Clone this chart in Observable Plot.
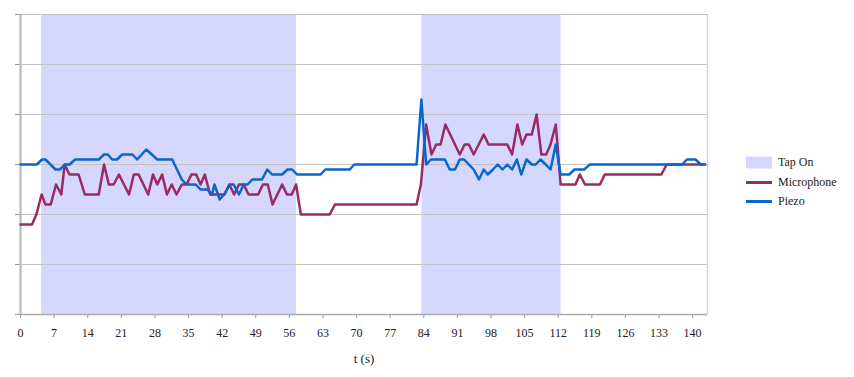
<!DOCTYPE html>
<html>
<head>
<meta charset="utf-8">
<script src="https://cdn.jsdelivr.net/npm/d3@7"></script>
<script src="https://cdn.jsdelivr.net/npm/@observablehq/plot@0.6"></script>
<style>
  html, body { margin: 0; padding: 0; background: white; }
  #wrap { position: relative; width: 854px; height: 377px; }
  #legend { position: absolute; left: 746px; top: 153px; font-family: "Liberation Serif", "DejaVu Serif", serif; font-size: 12px; color: #222; }
  #legend .row { display: flex; align-items: center; height: 19.5px; }
  #legend svg { margin-right: 5px; }
</style>
</head>
<body>
<div id="wrap"></div>
<script>
// Shaded "Tap On" intervals (t in s)
const tapStart = [4.4, 83.6];
const tapEnd = [57.5, 112.6];

// Microphone series (vertices)
const micT = [0, 2.4, 3.3, 4.4, 5.2, 6.3, 7.4, 8.5, 9.2, 10.2, 12.1, 13.4, 16.3, 17.4, 18.4, 19.4, 20.5, 22.6, 23.6, 24.6, 26.6, 27.6, 28.5, 29.5, 30.5, 31.5, 32.5, 33.6, 34.6, 35.6, 36.6, 37.5, 38.4, 39.5, 42.5, 43.5, 44.5, 45.5, 46.5, 47.5, 49.5, 50.5, 51.5, 52.5, 53.5, 54.5, 55.5, 56.5, 57.4, 58.4, 64.4, 65.5, 82.5, 83.4, 84.5, 85.6, 86.6, 87.5, 88.5, 91.5, 92.5, 93.4, 94.4, 96.5, 97.5, 101.4, 102.4, 103.5, 104.5, 105.4, 106.5, 107.5, 108.5, 109.5, 110.4, 111.5, 112.5, 115.6, 116.5, 117.6, 120.7, 121.7, 133.5, 134.6, 142.6];
const micV = [1.8, 1.8, 2.0, 2.4, 2.2, 2.2, 2.6, 2.4, 3.0, 2.8, 2.8, 2.4, 2.4, 3.0, 2.6, 2.6, 2.8, 2.4, 2.8, 2.8, 2.4, 2.8, 2.6, 2.8, 2.4, 2.6, 2.4, 2.6, 2.6, 2.8, 2.8, 2.6, 2.8, 2.4, 2.4, 2.6, 2.4, 2.6, 2.6, 2.4, 2.4, 2.6, 2.6, 2.2, 2.4, 2.6, 2.4, 2.4, 2.6, 2.0, 2.0, 2.2, 2.2, 2.6, 3.8, 3.2, 3.4, 3.4, 3.8, 3.2, 3.4, 3.4, 3.2, 3.6, 3.4, 3.4, 3.2, 3.8, 3.4, 3.6, 3.6, 4.0, 3.2, 3.2, 3.4, 3.8, 2.6, 2.6, 2.8, 2.6, 2.6, 2.8, 2.8, 3.0, 3.0];

// Piezo series (vertices)
const piezoT = [0, 3.4, 4.5, 5.2, 7.3, 8.2, 9.3, 10.2, 11.4, 16.3, 17.4, 18.2, 19.1, 20.1, 21.2, 23.3, 24.3, 26.2, 28.5, 31.6, 32.6, 33.6, 34.6, 36.5, 37.5, 38.9, 39.9, 40.4, 41.5, 42.4, 43.6, 44.4, 45.5, 46.5, 47.3, 48.3, 50.3, 51.4, 52.4, 54.5, 55.6, 56.6, 57.6, 62.5, 63.5, 68.6, 69.5, 82.5, 83.5, 84.5, 85.5, 88.4, 89.4, 90.5, 91.5, 92.4, 93.4, 94.4, 95.5, 96.5, 97.3, 98.4, 99.4, 100.4, 101.4, 102.4, 103.4, 104.3, 105.4, 106.5, 107.3, 108.3, 109.4, 110.4, 111.5, 112.5, 114.3, 115.4, 117.4, 118.6, 137.8, 138.8, 140.6, 141.7, 142.6];
const piezoV = [3.0, 3.0, 3.1, 3.1, 2.9, 2.9, 3.0, 3.0, 3.1, 3.1, 3.2, 3.2, 3.1, 3.1, 3.2, 3.2, 3.1, 3.3, 3.1, 3.1, 2.9, 2.7, 2.6, 2.6, 2.5, 2.5, 2.4, 2.6, 2.3, 2.4, 2.6, 2.6, 2.4, 2.6, 2.6, 2.7, 2.7, 2.9, 2.8, 2.8, 2.9, 2.9, 2.8, 2.8, 2.9, 2.9, 3.0, 3.0, 4.3, 3.0, 3.1, 3.1, 2.9, 2.9, 3.1, 3.1, 3.0, 2.9, 2.7, 2.9, 2.8, 2.9, 3.0, 2.9, 3.0, 2.9, 3.1, 2.8, 3.1, 3.0, 3.0, 3.1, 3.0, 2.9, 3.4, 2.8, 2.8, 2.9, 2.9, 3.0, 3.0, 3.1, 3.1, 3.0, 3.0];

const xTicks = [0, 7, 14, 21, 28, 35, 42, 49, 56, 63, 70, 77, 84, 91, 98, 105, 112, 119, 126, 133, 140];
const yTicks = [0, 1, 2, 3, 4, 5, 6];
const xLabel = "t (s)";
const seriesNames = ["Tap On", "Microphone", "Piezo"];
const colors = ["#d6d7fe", "#9a2b62", "#0a66cc"];

const xMax = 143.1;
const taps = tapStart.map((s, i) => ({s, e: tapEnd[i]}));
const mic = micT.map((t, i) => ({t, v: micV[i]}));
const piezo = piezoT.map((t, i) => ({t, v: piezoV[i]}));

const chart = Plot.plot({
  width: 854,
  height: 377,
  marginLeft: 20,
  marginRight: 147,
  marginTop: 14,
  marginBottom: 63,
  x: {domain: [0, xMax]},
  y: {domain: [0, 6]},
  style: {fontFamily: "'Liberation Serif', 'DejaVu Serif', serif", fontSize: "12px", color: "#222", background: "white"},
  marks: [
    Plot.rect(taps, {x1: "s", x2: "e", y1: 0, y2: 6, fill: colors[0]}),
    Plot.gridY(yTicks, {stroke: "#c2c2c2", strokeOpacity: 1, strokeWidth: 1}),
    Plot.ruleX([xMax], {stroke: "#cfcfcf", strokeWidth: 1.2}),
    Plot.axisY(yTicks, {tickSize: 5, tickFormat: () => "", stroke: "#999", label: null}),
    Plot.axisX(xTicks, {tickSize: 4, tickPadding: 10, stroke: "#999", label: null, fill: "#222"}),
    Plot.ruleY([0], {stroke: "#aaa", strokeWidth: 1.5}),
    Plot.ruleX([0], {stroke: "#b4b4b4", strokeWidth: 2}),
    Plot.line(mic, {x: "t", y: "v", stroke: colors[1], strokeWidth: 2.5}),
    Plot.line(piezo, {x: "t", y: "v", stroke: colors[2], strokeWidth: 2.5}),
    Plot.text([xLabel], {frameAnchor: "bottom", dy: 48, fontSize: 13, fill: "#222"})
  ]
});

const wrap = document.getElementById("wrap");
wrap.appendChild(chart);

const legend = document.createElement("div");
legend.id = "legend";
seriesNames.forEach((name, i) => {
  const row = document.createElement("div");
  row.className = "row";
  const sw = i === 0
    ? `<svg width="27" height="13"><rect x="0" y="0.5" width="26" height="12" fill="${colors[0]}"/></svg>`
    : `<svg width="27" height="13"><line x1="0" x2="26" y1="6.5" y2="6.5" stroke="${colors[i]}" stroke-width="3"/></svg>`;
  row.innerHTML = sw + `<span>${name}</span>`;
  legend.appendChild(row);
});
wrap.appendChild(legend);
</script>
</body>
</html>
